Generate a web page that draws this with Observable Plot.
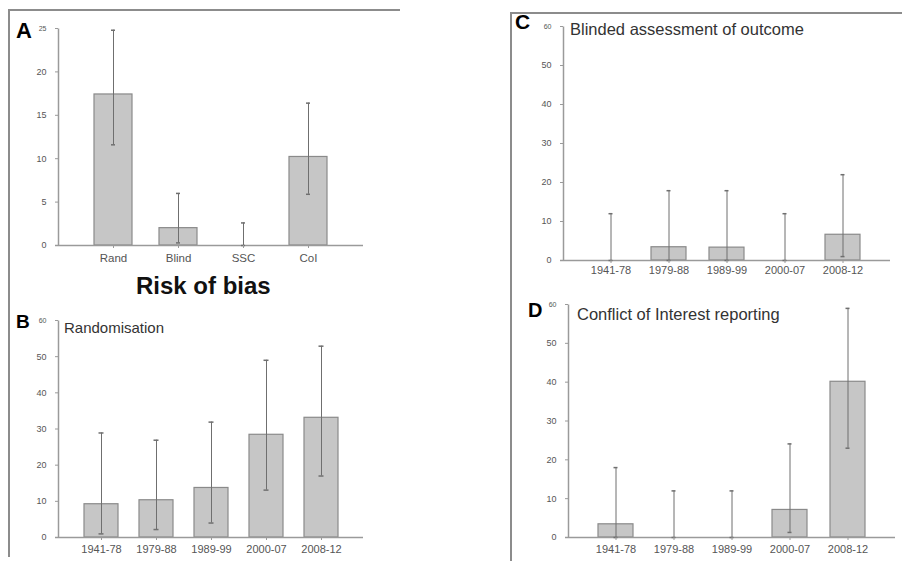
<!DOCTYPE html>
<html>
<head>
<meta charset="utf-8">
<script src="https://cdn.jsdelivr.net/npm/d3@7"></script>
<script src="https://cdn.jsdelivr.net/npm/@observablehq/plot@0.6"></script>
<style>
  html, body { margin: 0; padding: 0; background: #fff; }
  #wrap { position: relative; width: 902px; height: 561px; overflow: hidden; background: #fff; font-family: "Liberation Sans", Arial, sans-serif; }
  #wrap .panel { position: absolute; }
  #wrap svg { background: transparent !important; font-family: "Liberation Sans", Arial, sans-serif; }
  .lab { position: absolute; line-height: 1; white-space: nowrap; }
  .letter { font-weight: bold; color: #000; }
  .sub { color: #333; }
  .frame { position: absolute; background: #8c8c8c; }
  g[aria-label="y-axis tick label"] text:last-of-type { font-size: 7px; }
</style>
</head>
<body>
<div id="wrap"></div>
<script>
// ---- data ----
const catsA = ["Rand", "Blind", "SSC", "CoI"];
const valsA = [17.4, 2.0, 0, 10.2];
const loA = [11.6, 0.3, 0, 5.9];
const hiA = [24.8, 6.0, 2.6, 16.4];

const periods = ["1941-78", "1979-88", "1989-99", "2000-07", "2008-12"];

const valsB = [9.2, 10.3, 13.7, 28.4, 33.1];
const loB = [1.0, 2.2, 4.0, 13.1, 17.0];
const hiB = [28.9, 26.9, 31.9, 49.0, 52.9];

const valsC = [0, 3.4, 3.3, 0, 6.6];
const loC = [0, 0, 0, 0, 1.0];
const hiC = [12, 17.9, 17.9, 12, 22];

const valsD = [3.4, 0, 0, 7.1, 40.1];
const loD = [0, 0, 0, 1.3, 23.0];
const hiD = [18, 12, 12, 24.1, 59];

const ticksA = [0, 5, 10, 15, 20, 25];
const ticks60 = [0, 10, 20, 30, 40, 50, 60];

const titleA = "Risk of bias";
const subB = "Randomisation";
const subC = "Blinded assessment of outcome";
const subD = "Conflict of Interest reporting";

// ---- helpers ----
function rows(cats, vals, lo, hi) {
  return cats.map((c, i) => ({cat: c, v: vals[i], lo: lo[i], hi: hi[i]}));
}

function panel(opts) {
  const data = rows(opts.cats, opts.vals, opts.lo, opts.hi);
  const pw = opts.width - opts.ml - opts.mr;
  const ph = opts.height - opts.mt - opts.mb;
  const chart = Plot.plot({
    width: opts.width,
    height: opts.height,
    marginLeft: opts.ml, marginRight: opts.mr, marginTop: opts.mt, marginBottom: opts.mb,
    style: {background: "transparent", fontFamily: "Liberation Sans, Arial, sans-serif"},
    x: {domain: opts.cats, paddingInner: opts.pi, paddingOuter: opts.po, axis: null, label: null},
    y: {domain: opts.ydomain, axis: null, label: null},
    marks: [
      Plot.barY(data, {x: "cat", y: "v", fill: "#c6c6c6", stroke: "#8a8a8a", strokeWidth: 1.2}),
      // left edge of the frame only = y-axis line
      Plot.frame({stroke: "#9a9a9a", strokeWidth: 1.5, strokeDasharray: `0 ${2 * pw + ph} ${ph} 0`}),
      Plot.ruleY([0], {stroke: "#9a9a9a", strokeWidth: 1.5, insetLeft: -3}),
      Plot.ruleX(data, {x: "cat", y1: "lo", y2: "hi", stroke: "#6f6f6f", strokeWidth: 1}),
      Plot.tickY(data, {x: "cat", y: "hi", stroke: "#6f6f6f", strokeWidth: 1.5, insetLeft: opts.cap, insetRight: opts.cap}),
      Plot.tickY(data, {x: "cat", y: "lo", stroke: "#6f6f6f", strokeWidth: 1.5, insetLeft: opts.cap, insetRight: opts.cap}),
      Plot.axisY({ticks: opts.yticks, tickSize: 3, tickPadding: 9, fontSize: 9, color: "#555", stroke: "#9a9a9a", label: null}),
      Plot.axisX({tickSize: 3, tickPadding: opts.xpad, fontSize: opts.xfont, color: "#555", stroke: "#9a9a9a", label: null})
    ]
  });
  chart.classList.add("panel");
  chart.style.left = opts.left + "px";
  chart.style.top = opts.top + "px";
  return chart;
}

const wrap = document.getElementById("wrap");

wrap.appendChild(panel({
  cats: catsA, vals: valsA, lo: loA, hi: hiA, ydomain: [0, 25], yticks: ticksA,
  left: 0, top: 0, width: 400, height: 272, ml: 58, mr: 37, mt: 28, mb: 27,
  pi: 0.41, po: 0.52, cap: 17, xpad: 5, xfont: 11.5
}));

wrap.appendChild(panel({
  cats: periods, vals: valsB, lo: loB, hi: hiB, ydomain: [0, 60], yticks: ticks60,
  left: 0, top: 300, width: 400, height: 261, ml: 58, mr: 37, mt: 20, mb: 24,
  pi: 0.39, po: 0.45, cap: 14.5, xpad: 5, xfont: 11
}));

wrap.appendChild(panel({
  cats: periods, vals: valsC, lo: loC, hi: hiC, ydomain: [0, 60], yticks: ticks60,
  left: 510, top: 0, width: 392, height: 285, ml: 53, mr: 12, mt: 26, mb: 25,
  pi: 0.39, po: 0.49, cap: 15.5, xpad: 3, xfont: 11
}));

wrap.appendChild(panel({
  cats: periods, vals: valsD, lo: loD, hi: hiD, ydomain: [0, 60], yticks: ticks60,
  left: 510, top: 290, width: 392, height: 271, ml: 58, mr: 7, mt: 14, mb: 24,
  pi: 0.39, po: 0.47, cap: 15.5, xpad: 5, xfont: 11
}));

// ---- frame lines ----
function frame(x, y, w, h) {
  const d = document.createElement("div");
  d.className = "frame";
  Object.assign(d.style, {left: x + "px", top: y + "px", width: w + "px", height: h + "px"});
  wrap.appendChild(d);
}
frame(8, 9, 392, 2);
frame(8, 9, 2, 548);
frame(510, 12, 392, 2);
frame(510, 12, 2, 549);

// ---- text labels ----
function label(text, cls, x, y, size) {
  const d = document.createElement("div");
  d.className = "lab " + cls;
  d.textContent = text;
  Object.assign(d.style, {left: x + "px", top: y + "px", fontSize: size + "px"});
  wrap.appendChild(d);
  return d;
}
label("A", "letter", 16, 20, 22);
label("B", "letter", 16, 312, 19);
label("C", "letter", 515, 11, 21);
label("D", "letter", 528, 300, 20);

const t = label(titleA, "letter", 136, 274, 24);
t.style.color = "#111";

label(subB, "sub", 64, 320, 15);
label(subC, "sub", 570, 21, 16.5);
label(subD, "sub", 577, 306, 16.5);
</script>
</body>
</html>
